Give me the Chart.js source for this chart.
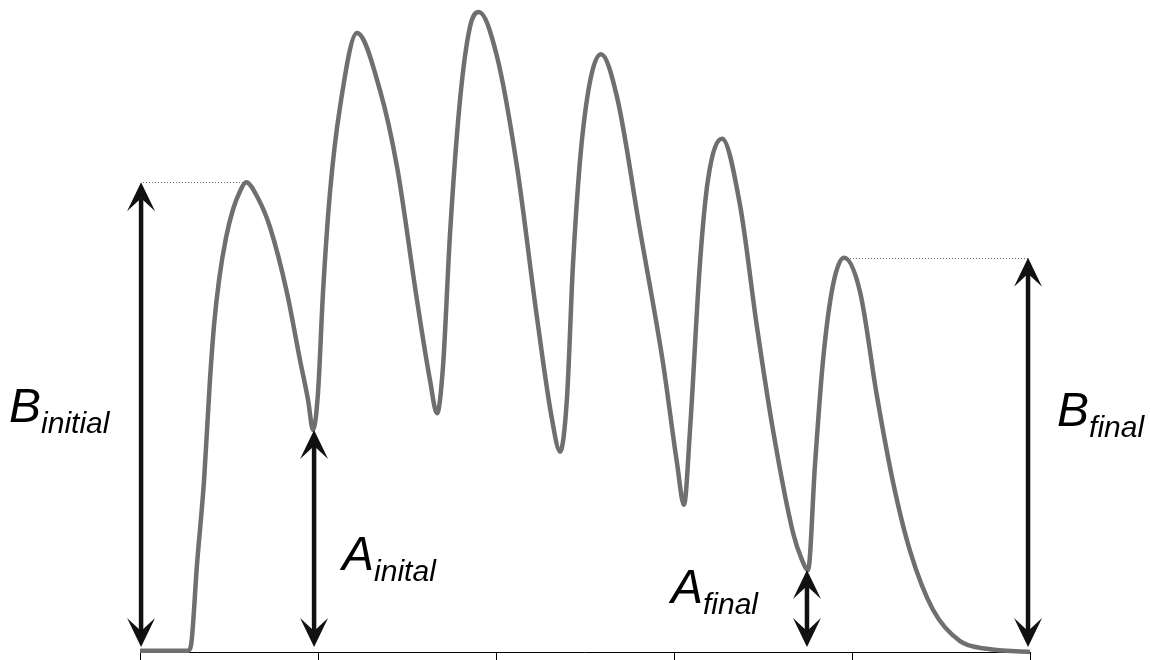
<!DOCTYPE html>
<html>
<head>
<meta charset="utf-8">
<script src="https://cdn.jsdelivr.net/npm/chart.js@4/dist/chart.umd.min.js"></script>
<style>
  html, body { margin: 0; padding: 0; background: #fff; }
  #wrap { width: 1150px; height: 660px; }
</style>
</head>
<body>
<div id="wrap"><canvas id="pulseChart" width="1150" height="660"></canvas></div>
<script>
// CURVE SAMPLES (time on x, amplitude on y, 0-100)
const timeVals = [
  0, 0.197, 0.270, 0.287, 0.320, 0.360, 0.393, 0.416, 0.444, 0.483,
  0.522, 0.562, 0.596,
  0.663, 0.730, 0.826, 0.899, 0.944, 0.972, 1.000, 1.028, 1.067, 1.124,
  1.219, 1.348, 1.444, 1.556, 1.629, 1.669, 1.702, 1.742, 1.798, 1.854,
  1.904, 2.006, 2.118, 2.230, 2.315, 2.360, 2.399, 2.433, 2.489, 2.590,
  2.680, 2.809, 2.938, 3.017, 3.056, 3.090, 3.146, 3.191, 3.270, 3.371,
  3.466, 3.556, 3.669, 3.719, 3.753, 3.792, 3.837, 3.893, 3.955, 4.045,
  4.140, 4.230, 4.326, 4.455, 4.607, 4.758, 5.000
];
const ampVals = [
  0.2, 0.2, 0.2, 1.1, 13.6, 26.9, 42.5, 51.1, 58.1, 64.7,
  69.1, 72.0, 73.4,
  70.9, 66.4, 56.1, 45.6, 39.4, 34.7, 40.5, 56.1, 71.7, 85.2,
  96.7, 87.8, 75.8, 55.0, 42.5, 37.3, 44.5, 65.5, 86.3, 97.7,
  100, 93.0, 75.8, 52.3, 36.3, 31.3, 39.8, 60.8, 81.6, 93.4,
  86.7, 65.9, 45.2, 29.5, 23.0, 34.7, 60.8, 73.8, 80.2, 69.8,
  50.8, 34.7, 18.6, 14.4, 12.8, 29.2, 45.5, 57.3, 61.6, 56.3,
  40.0, 26.6, 15.8, 6.6, 1.7, 0.5, 0
];
const xTicks = [0, 1, 2, 3, 4, 5];

// DOUBLE ARROWS (x position, top value, label, peak the dotted guide comes from)
const arrowX = [0.006, 0.978, 3.747, 4.989];
const arrowTop = [73.4, 34.7, 12.8, 61.6];
const arrowLetter = ['B', 'A', 'A', 'B'];
const arrowSub = ['initial', 'inital', 'final', 'final'];
const guideFromX = [0.596, null, null, 3.955];

// label placement next to each arrow, in px
const labelDx = [-132, 28, -136, 29];
const labelBase = [422, 570, 603, 426];

const FONT = '"Liberation Sans", Arial, sans-serif';

function arrowHead(ctx, x, tipY, dir) {
  // dir = 1 -> pointing down, -1 -> pointing up
  const len = 29, half = 14, notch = 16;
  ctx.beginPath();
  ctx.moveTo(x, tipY);
  ctx.lineTo(x - half, tipY - dir * len);
  ctx.lineTo(x, tipY - dir * notch);
  ctx.lineTo(x + half, tipY - dir * len);
  ctx.closePath();
  ctx.fill();
}

const annotations = {
  id: 'annotations',
  afterDatasetsDraw(chart) {
    const ctx = chart.ctx;
    const xs = chart.scales.x, ys = chart.scales.y;
    ctx.save();
    arrowX.forEach((ax, i) => {
      const px = xs.getPixelForValue(ax);
      const top = ys.getPixelForValue(arrowTop[i]);
      const bottom = ys.getPixelForValue(0) - 5;

      // dotted guide from the peak
      if (guideFromX[i] !== null) {
        ctx.strokeStyle = '#666';
        ctx.lineWidth = 1;
        ctx.setLineDash([1, 2]);
        ctx.beginPath();
        ctx.moveTo(xs.getPixelForValue(guideFromX[i]), Math.round(top) + 0.5);
        ctx.lineTo(px, Math.round(top) + 0.5);
        ctx.stroke();
        ctx.setLineDash([]);
      }

      ctx.fillStyle = '#111';
      ctx.strokeStyle = '#111';
      ctx.lineWidth = 4.5;
      ctx.beginPath();
      ctx.moveTo(px, top + 16);
      ctx.lineTo(px, bottom - 16);
      ctx.stroke();
      arrowHead(ctx, px, top, -1);
      arrowHead(ctx, px, bottom, 1);

      // label
      const lx = px + labelDx[i];
      ctx.fillStyle = '#000';
      ctx.textBaseline = 'alphabetic';
      ctx.textAlign = 'left';
      ctx.font = 'italic 48px ' + FONT;
      ctx.fillText(arrowLetter[i], lx, labelBase[i]);
      const w = ctx.measureText(arrowLetter[i]).width;
      ctx.font = 'italic 30px ' + FONT;
      ctx.fillText(arrowSub[i], lx + w, labelBase[i] + 11);
    });
    ctx.restore();
  }
};

const points = timeVals.map((t, i) => ({ x: t, y: ampVals[i] }));

new Chart(document.getElementById('pulseChart'), {
  type: 'line',
  data: {
    datasets: [{
      data: points,
      borderColor: '#6f6f6f',
      borderWidth: 4.5,
      pointRadius: 0,
      cubicInterpolationMode: 'monotone',
      fill: false,
      clip: false
    }]
  },
  options: {
    responsive: false,
    animation: false,
    layout: { padding: { left: 140, right: 120, top: 12, bottom: 0 } },
    plugins: { legend: { display: false }, tooltip: { enabled: false } },
    scales: {
      x: {
        type: 'linear',
        min: xTicks[0],
        max: xTicks[xTicks.length - 1],
        afterBuildTicks: s => { s.ticks = xTicks.map(v => ({ value: v })); },
        ticks: { display: false },
        grid: { display: true, drawOnChartArea: false, drawTicks: true, tickLength: 8, color: '#000', lineWidth: 1 },
        border: { display: true, color: '#000', width: 1 }
      },
      y: {
        display: false,
        min: 0,
        max: 100
      }
    }
  },
  plugins: [annotations]
});
</script>
</body>
</html>
